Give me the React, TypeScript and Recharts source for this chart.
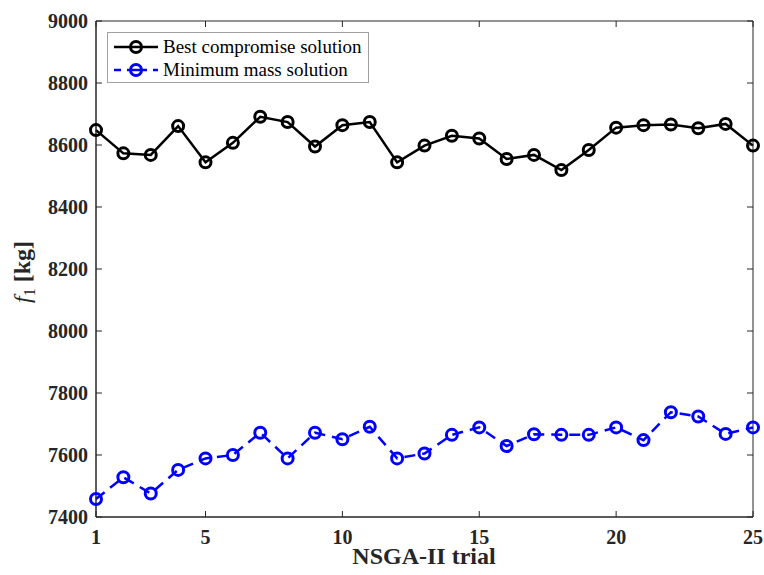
import { LineChart, Line, XAxis, YAxis, ReferenceArea } from "recharts"

const trials = [1, 2, 3, 4, 5, 6, 7, 8, 9, 10, 11, 12, 13, 14, 15, 16, 17, 18, 19, 20, 21, 22, 23, 24, 25]
const bestCompromise = [8648, 8573, 8568, 8661, 8544, 8607, 8691, 8674, 8595, 8664, 8674, 8544, 8598, 8630, 8621, 8555, 8568, 8519, 8584, 8656, 8664, 8666, 8654, 8668, 8598]
const minimumMass = [7458, 7528, 7476, 7552, 7589, 7600, 7672, 7589, 7672, 7651, 7691, 7589, 7605, 7665, 7689, 7629, 7667, 7665, 7665, 7689, 7648, 7738, 7724, 7668, 7689]
const xTicks = [1, 5, 10, 15, 20, 25]
const yTicks = [7400, 7600, 7800, 8000, 8200, 8400, 8600, 8800, 9000]

const data = trials.map((t, i) => ({ trial: t, best: bestCompromise[i], minMass: minimumMass[i] }))

const series = [
  { key: "best", name: "Best compromise solution", color: "#000000", dash: undefined },
  { key: "minMass", name: "Minimum mass solution", color: "#0000ff", dash: "11 7" },
]

const AXIS = "#262626"
const FONT = "Liberation Serif, Times New Roman, DejaVu Serif, serif"
const PLOT = { left: 96, right: 753, top: 21, bottom: 517 }

function XTick({ x, payload }: any) {
  return (
    <g>
      <line x1={x} x2={x} y1={PLOT.bottom} y2={PLOT.bottom - 6} stroke={AXIS} />
      <line x1={x} x2={x} y1={PLOT.top} y2={PLOT.top + 6} stroke={AXIS} />
      <text x={x} y={544} textAnchor="middle" fontFamily={FONT} fontWeight="bold" fontSize={20} fill={AXIS}>
        {payload.value}
      </text>
    </g>
  )
}

function YTick({ y, payload }: any) {
  return (
    <g>
      <line x1={PLOT.left} x2={PLOT.left + 6} y1={y} y2={y} stroke={AXIS} />
      <line x1={PLOT.right} x2={PLOT.right - 6} y1={y} y2={y} stroke={AXIS} />
      <text x={88} y={y + 7} textAnchor="end" fontFamily={FONT} fontWeight="bold" fontSize={20} fill={AXIS}>
        {payload.value}
      </text>
    </g>
  )
}

function LegendBox() {
  return (
    <div
      style={{
        position: "absolute",
        left: 107,
        top: 32,
        width: 262,
        height: 51,
        boxSizing: "border-box",
        border: "1px solid #a0a0a0",
        background: "#fff",
        padding: "2px 0 0 4px",
        fontFamily: FONT,
        fontSize: 19,
        color: "#000",
        lineHeight: "23px",
      }}
    >
      {series.map((s) => (
        <div key={s.key} style={{ display: "flex", alignItems: "center", whiteSpace: "nowrap" }}>
          <svg width={48} height={16} style={{ marginRight: 3 }}>
            <line x1={2} x2={46} y1={8} y2={8} stroke={s.color} strokeWidth={2.5} strokeDasharray={s.dash ? "7 6" : undefined} />
            <circle cx={24} cy={8} r={5.5} fill="#fff" stroke={s.color} strokeWidth={3} />
            <line x1={19} x2={29} y1={8} y2={8} stroke={s.color} strokeWidth={2.5} />
          </svg>
          <span>{s.name}</span>
        </div>
      ))}
    </div>
  )
}

export default function App() {
  return (
    <div style={{ position: "absolute", left: 0, top: 0, width: 764, height: 575, background: "#fff" }}>
      <LineChart width={764} height={575} data={data} margin={{ top: 21, right: 11, left: 0, bottom: 0 }}>
        <XAxis
          dataKey="trial"
          type="number"
          domain={[1, 25]}
          ticks={xTicks}
          height={58}
          tickLine={false}
          axisLine={{ stroke: AXIS }}
          tick={<XTick />}
          label={{
            content: () => (
              <text x={424} y={564} textAnchor="middle" fontFamily={FONT} fontWeight="bold" fontSize={24} fill={AXIS}>
                NSGA-II trial
              </text>
            ),
          }}
        />
        <YAxis
          type="number"
          domain={[7400, 9000]}
          ticks={yTicks}
          width={96}
          tickLine={false}
          axisLine={{ stroke: AXIS }}
          tick={<YTick />}
          label={{
            content: () => (
              <text
                x={30}
                y={272}
                transform="rotate(-90, 30, 272)"
                textAnchor="middle"
                fontFamily={FONT}
                fontWeight="bold"
                fontSize={24}
                fill={AXIS}
              >
                <tspan fontStyle="italic" fontWeight="normal">f</tspan>
                <tspan fontSize={16} fontWeight="normal" dy={5}>1</tspan>
                <tspan dy={-5} dx={6}>[kg]</tspan>
              </text>
            ),
          }}
        />
        <ReferenceArea x1={1} x2={25} y1={7400} y2={9000} fill="none" stroke={AXIS} strokeOpacity={1} ifOverflow="visible" />
        {series.map((s) => (
          <Line
            key={s.key}
            name={s.name}
            dataKey={s.key}
            stroke={s.color}
            strokeWidth={2.5}
            strokeDasharray={s.dash}
            dot={{ r: 5.5, stroke: s.color, strokeWidth: 3, fill: "none", strokeDasharray: "none" }}
            activeDot={false}
            isAnimationActive={false}
          />
        ))}
      </LineChart>
      <LegendBox />
    </div>
  )
}
